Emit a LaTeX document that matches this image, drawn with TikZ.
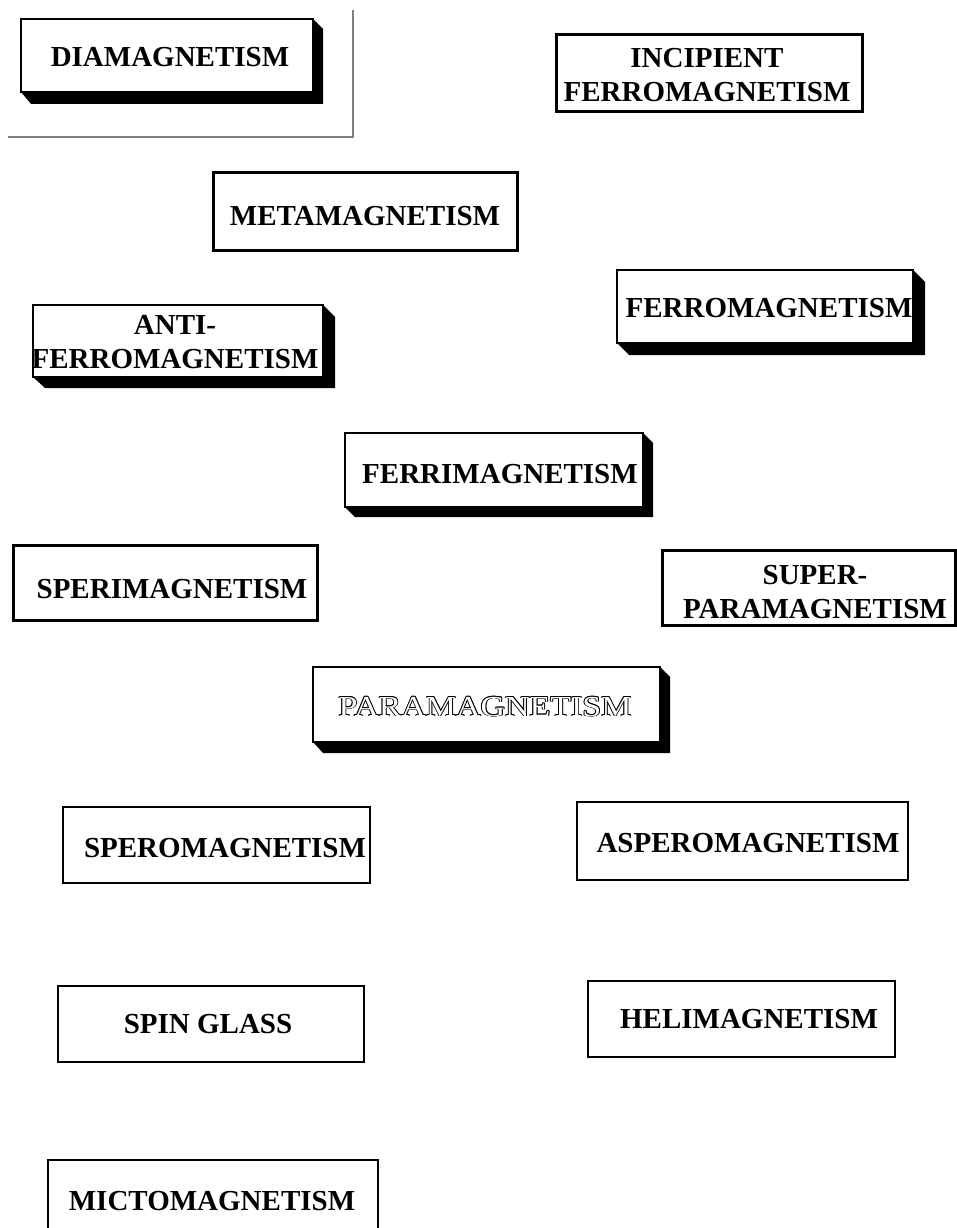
\documentclass[tikz,border=0pt]{standalone}
\usepackage{fontspec}
\usepackage{graphicx}
\setmainfont{Liberation Serif}

\tikzset{
  box/.style={draw=black,fill=white,line width=2pt},
  thickbox/.style={draw=black,fill=white,line width=3pt},
  lbl/.style={anchor=base,inner sep=0pt,align=center,
    font=\bfseries\fontsize{29}{34}\selectfont},
  hollow/.style={anchor=base,inner sep=0pt,
    font=\fontsize{29}{34}\selectfont}
}

\begin{document}
\begin{tikzpicture}[x=1pt,y=-1pt]
  \useasboundingbox (0,0) rectangle (957,1228);
  % frame round the first box
  \draw[gray,line width=1.5pt] (8,137) -- (353,137) -- (353,10);

  % boxes with a black block under them
  \fill (313,19) -- (323,29) -- (323,104) -- (31,104) -- (21,92) -- cycle;
  \draw[box] (21,19) rectangle (313,92);
  \node[lbl] (dia) at (170,67) {DIAMAGNETISM};

  \draw[thickbox] (556,35) rectangle (862,112);
  \node[lbl] (incip) at (707,102) {INCIPIENT\\FERROMAGNETISM};

  \draw[thickbox] (213,172) rectangle (517,250);
  \node[lbl] (meta) at (365,225) {METAMAGNETISM};

  \fill (913,270) -- (925,282) -- (925,355) -- (629,355) -- (617,343) -- cycle;
  \draw[box] (617,270) rectangle (913,343);
  \node[lbl] (ferro) at (769,317) {FERROMAGNETISM};

  \fill (323,305) -- (335,317) -- (335,388) -- (45,388) -- (33,377) -- cycle;
  \draw[box] (33,305) rectangle (323,377);
  \node[lbl] (antiferro) at (175,368) {ANTI-\\FERROMAGNETISM};

  \fill (643,433) -- (653,443) -- (653,517) -- (355,517) -- (345,507) -- cycle;
  \draw[box] (345,433) rectangle (643,507);
  \node[lbl] (ferri) at (500,483) {FERRIMAGNETISM};

  \draw[thickbox] (13,545) rectangle (317,620);
  \node[lbl] (speri) at (172,598) {SPERIMAGNETISM};

  \draw[thickbox] (662,550) rectangle (955,625);
  \node[lbl] (superpara) at (815,618) {SUPER-\\PARAMAGNETISM};

  \fill (660,667) -- (670,677) -- (670,753) -- (323,753) -- (313,742) -- cycle;
  \draw[box] (313,667) rectangle (660,742);
  % outlined lettering
  \foreach \a in {0,45,...,315}
    \node[hollow] at ([shift={(\a:0.9)}]485,716) {\scalebox{1.17}[1]{PARAMAGNETISM}};
  \node[hollow,text=white] (para) at (485,716) {\scalebox{1.17}[1]{PARAMAGNETISM}};

  \draw[box] (63,807) rectangle (370,883);
  \node[lbl] (spero) at (225,857) {SPEROMAGNETISM};

  \draw[box] (577,802) rectangle (908,880);
  \node[lbl] (aspero) at (748,852) {ASPEROMAGNETISM};

  \draw[box] (58,986) rectangle (364,1062);
  \node[lbl] (spin) at (208,1033) {SPIN GLASS};

  \draw[box] (588,981) rectangle (895,1057);
  \node[lbl] (heli) at (749,1028) {HELIMAGNETISM};

  \draw[box] (48,1160) rectangle (378,1236);
  \node[lbl] (micto) at (212,1210) {MICTOMAGNETISM};
\end{tikzpicture}
\end{document}
